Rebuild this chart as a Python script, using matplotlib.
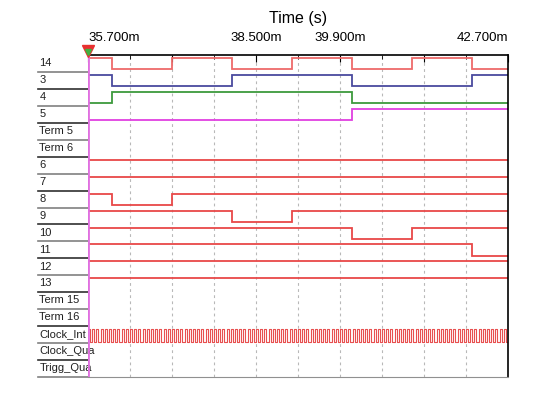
import numpy as np
import matplotlib
matplotlib.use("Agg")
import matplotlib.pyplot as plt
import matplotlib.transforms as mtransforms

plt.rcParams['font.family'] = ['Liberation Sans', 'DejaVu Sans']

# time window in ms
t_start = 35.7
t_end = 42.7
grid_step = 0.7

row_names = ['14', '3', '4', '5', 'Term 5', 'Term 6', '6', '7', '8', '9', '10',
             '11', '12', '13', 'Term 15', 'Term 16', 'Clock_Int', 'Clock_Qua', 'Trigg_Qua']

# edge times (ms) and the level after each edge (1 = high, 0 = low)
sig_14_t = [35.7, 36.1, 37.1, 38.1, 39.1, 40.1, 41.1, 42.1]
sig_14_v = [1, 0, 1, 0, 1, 0, 1, 0]
sig_3_t = [35.7, 36.1, 38.1, 40.1, 42.1]
sig_3_v = [1, 0, 1, 0, 1]
sig_4_t = [35.7, 36.1, 40.1]
sig_4_v = [0, 1, 0]
sig_5_t = [35.7, 40.1]
sig_5_v = [0, 1]
sig_6_t = [35.7]
sig_6_v = [1]
sig_7_t = [35.7]
sig_7_v = [1]
sig_8_t = [35.7, 36.1, 37.1]
sig_8_v = [1, 0, 1]
sig_9_t = [35.7, 38.1, 39.1]
sig_9_v = [1, 0, 1]
sig_10_t = [35.7, 40.1, 41.1]
sig_10_v = [1, 0, 1]
sig_11_t = [35.7, 42.1]
sig_11_v = [1, 0]
sig_12_t = [35.7]
sig_12_v = [1]
sig_13_t = [35.7]
sig_13_v = [1]
clock_period = 0.07  # Clock_Int period, ms

red = '#e84848'
signals = [
    (0, sig_14_t, sig_14_v, '#ee6a6a'),
    (1, sig_3_t, sig_3_v, '#4a4a9e'),
    (2, sig_4_t, sig_4_v, '#3d9a3d'),
    (3, sig_5_t, sig_5_v, '#e040e0'),
    (6, sig_6_t, sig_6_v, red),
    (7, sig_7_t, sig_7_v, red),
    (8, sig_8_t, sig_8_v, red),
    (9, sig_9_t, sig_9_v, red),
    (10, sig_10_t, sig_10_v, red),
    (11, sig_11_t, sig_11_v, red),
    (12, sig_12_t, sig_12_v, red),
    (13, sig_13_t, sig_13_v, red),
]

fig = plt.figure(figsize=(5.52, 3.93), dpi=100)
ax = fig.add_axes([88 / 552, 16 / 393, 420 / 552, 322 / 393])
n = len(row_names)
ax.set_xlim(t_start, t_end)
ax.set_ylim(n, 0)

hi, lo = 0.18, 0.84

for row, ts, vs, col in signals:
    x = list(ts) + [t_end]
    y = [row + (hi if v else lo) for v in vs]
    y = y + [y[-1]]
    ax.step(x, y, where='post', color=col, lw=1.3, solid_joinstyle='miter')

# clock row
ck_row = row_names.index('Clock_Int')
edges = np.arange(t_start, t_end, clock_period / 2)
levels = [(i + 1) % 2 for i in range(len(edges))]
cy = [ck_row + (0.18 if v else 0.92) for v in levels]
ax.step(list(edges) + [t_end], cy + [cy[-1]], where='post', color='#e85050', lw=0.8)

# grid
grid_x = [t_start + k * grid_step for k in range(11)]
for gx in grid_x[1:-1]:
    ax.axvline(gx, color='#b8b8b8', lw=0.8, ls=(0, (2.5, 3)), zorder=0)

# cursor
ax.axvline(t_start, color='#e070e0', lw=2, zorder=5)
mt = mtransforms.blended_transform_factory(ax.transData, ax.transAxes)
ax.plot([t_start], [1.012], marker='v', ms=8, color='#e83030', transform=mt, clip_on=False, zorder=6)
ax.plot([t_start], [1.010], marker='v', ms=4.5, color='#40b040', transform=mt, clip_on=False, zorder=7)

# row labels and separators
trans = mtransforms.blended_transform_factory(ax.transAxes, ax.transData)
lx = (38 - 88) / 420
for i, name in enumerate(row_names):
    ax.text(lx + 0.003, i + 0.48, name, transform=trans, fontsize=8, va='center', ha='left', color='#202020')
    ax.plot([lx, 0], [i + 1, i + 1], transform=trans, color='#808080' if i % 2 == 0 else '#303030', lw=1.2, clip_on=False)

# axis ticks on top
ax.xaxis.tick_top()
major = [t_start + k * 2 * grid_step for k in range(6)]
minor = [t_start + (2 * k + 1) * grid_step for k in range(5)]
ax.set_xticks(major)
ax.set_xticks(minor, minor=True)
shown = [35.7, 38.5, 39.9, 42.7]
ax.set_xticklabels(['%.3fm' % m if any(abs(m - s) < 1e-6 for s in shown) else '' for m in major])
ax.tick_params(axis='x', which='major', direction='in', length=5, pad=8, labelsize=9.5)
ax.tick_params(axis='x', which='minor', direction='in', length=3)
labs = ax.get_xticklabels()
labs[0].set_ha('left')
labs[-1].set_ha('right')
ax.set_yticks([])

for s in ['top', 'right']:
    ax.spines[s].set_color('black')
    ax.spines[s].set_linewidth(1.2)
ax.spines['left'].set_visible(False)
ax.spines['bottom'].set_color('#909090')

fig.text(298 / 552, 1 - 18 / 393, 'Time (s)', fontsize=11.5, ha='center', va='center')

fig.savefig('out.png', dpi=100, facecolor='white')
